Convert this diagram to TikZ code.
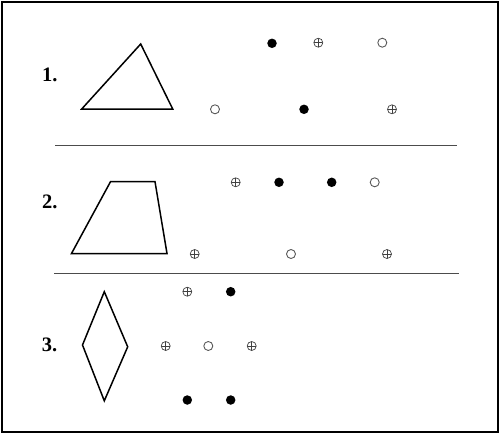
\documentclass[tikz,border=0pt]{standalone}
\usepackage{fontspec}
\setmainfont{Liberation Serif}
\usetikzlibrary{positioning}
\tikzset{
    shape edge/.style = {draw, line width=1.5pt, line join=miter},
    rule line/.style = {draw, line width=1pt, color=black!70},
    item label/.style = {anchor=base, inner sep=0pt, font=\fontsize{20.5}{22}\selectfont\bfseries},
}
\tikzset{
    solid dot/.style = {circle, fill=black, minimum size=9.5pt, inner sep=0pt},
    hollow dot/.style = {circle, draw=black!65, line width=0.9pt, minimum size=9pt, inner sep=0pt},
    cross dot/.style = {circle, draw=black!75, line width=0.7pt, minimum size=9pt, inner sep=0pt,
        path picture={\draw[black!75, line width=0.7pt] (path picture bounding box.north) -- (path picture bounding box.south)
            (path picture bounding box.west) -- (path picture bounding box.east);}},
}

\begin{document}
\begin{tikzpicture}[x=1pt, y=-1pt]
            \useasboundingbox (0, 0) rectangle (500, 434);
            \draw[line width=2pt] (2, 2) rectangle (497.5, 431.5);

            \node[item label] (n1) at (49.8, 81.5) {1.};
            \node[item label] (n2) at (49.8, 208.5) {2.};
            \node[item label] (n3) at (49.6, 351.8) {3.};

            \coordinate (t1) at (140.7, 44);
            \coordinate (t2) at (172.7, 109);
            \coordinate (t3) at (81.7, 109);
            \draw[shape edge] (t1) -- (t2) -- (t3) -- cycle;

            \node[solid dot] (a1) at (272, 43.3) {};
            \node[cross dot] (a2) at (318.3, 42.7) {};
            \node[hollow dot] (a3) at (382.3, 42.7) {};
            \node[hollow dot] (a4) at (215, 109.3) {};
            \node[solid dot] (a5) at (304, 109.3) {};
            \node[cross dot] (a6) at (392, 109.3) {};

            \coordinate (r1a) at (55, 145.5);
            \coordinate (r1b) at (456.7, 145.5);
            \draw[rule line] (r1a) -- (r1b);

            \coordinate (q1) at (110.5, 181.7);
            \coordinate (q2) at (155, 181.7);
            \coordinate (q3) at (167, 253.5);
            \coordinate (q4) at (71.5, 253.5);
            \draw[shape edge] (q1) -- (q2) -- (q3) -- (q4) -- cycle;

            \node[cross dot] (b1) at (235.7, 182.3) {};
            \node[solid dot] (b2) at (279, 182.3) {};
            \node[solid dot] (b3) at (331.7, 182.3) {};
            \node[hollow dot] (b4) at (374.7, 182.3) {};
            \node[cross dot] (b5) at (194.7, 254) {};
            \node[hollow dot] (b6) at (291, 254) {};
            \node[cross dot] (b7) at (387, 254) {};

            \coordinate (r2a) at (54, 273.3);
            \coordinate (r2b) at (459.3, 273.3);
            \draw[rule line] (r2a) -- (r2b);

            \coordinate (d1) at (104.3, 291.7);
            \coordinate (d2) at (127.7, 346.8);
            \coordinate (d3) at (104.3, 400.8);
            \coordinate (d4) at (82.5, 345);
            \draw[shape edge] (d1) -- (d2) -- (d3) -- (d4) -- cycle;

            \node[cross dot] (c1) at (187.3, 291.7) {};
            \node[solid dot] (c2) at (230.7, 291.7) {};
            \node[cross dot] (c3) at (165.7, 346) {};
            \node[hollow dot] (c4) at (208.3, 346) {};
            \node[cross dot] (c5) at (251.7, 346) {};
            \node[solid dot] (c6) at (187.3, 400) {};
            \node[solid dot] (c7) at (230.7, 400) {};
        \end{tikzpicture}
\end{document}
